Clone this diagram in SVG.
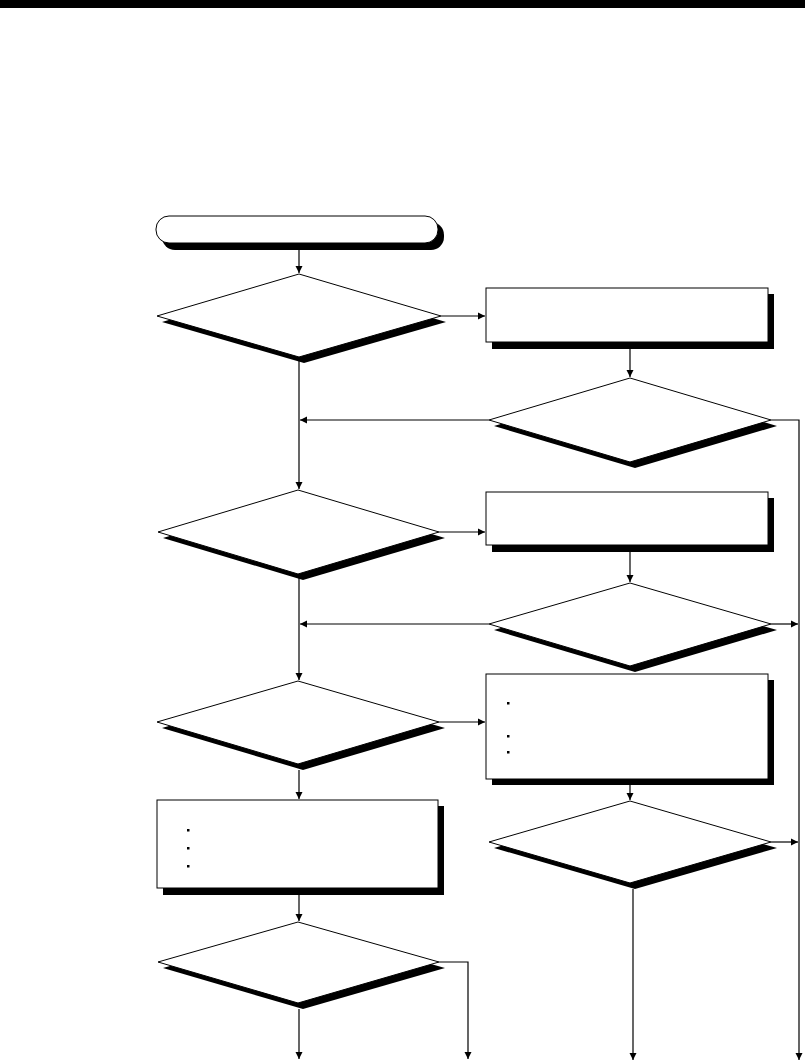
<svg xmlns="http://www.w3.org/2000/svg" width="805" height="1063" viewBox="0 0 805 1063">
<style>
.shadow{fill:#000;stroke:none}
.shape{fill:#fff;stroke:#000;stroke-width:1}
.bullet{fill:#000}
.conn{fill:none;stroke:#000;stroke-width:1.2}
</style>
<defs>
<marker id="ah" markerWidth="8" markerHeight="8" refX="7" refY="4" orient="auto" markerUnits="userSpaceOnUse">
<path d="M0,0.5 L7,4 L0,7.5 Z" fill="#000"/>
</marker>
</defs>
<rect x="0" y="0" width="805" height="8" fill="#000"/>

<g id="start">
<rect class="shadow" x="162" y="222" width="282" height="28" rx="13"/>
<rect class="shape" x="156" y="216" width="282" height="27" rx="13"/>
</g>

<g id="decision1">
<polygon class="shadow" points="304,280 446,322 304,363 162,322"/>
<polygon class="shape" points="299,274 441,316 299,357 157,316"/>
</g>

<g id="process1">
<rect class="shadow" x="492" y="294" width="282" height="55"/>
<rect class="shape" x="486" y="288" width="282" height="54"/>
</g>

<g id="decision2">
<polygon class="shadow" points="635,384 777,426 635,468 494,426"/>
<polygon class="shape" points="630,378 771,420 630,462 489,420"/>
</g>

<g id="decision3">
<polygon class="shadow" points="303,496 445,538 303,580 163,538"/>
<polygon class="shape" points="298,490 439,532 298,574 158,532"/>
</g>

<g id="process2">
<rect class="shadow" x="492" y="498" width="282" height="54"/>
<rect class="shape" x="486" y="492" width="282" height="53"/>
</g>

<g id="decision4">
<polygon class="shadow" points="635,589 777,630 635,672 494,630"/>
<polygon class="shape" points="630,583 771,624 630,666 489,624"/>
</g>

<g id="decision5">
<polygon class="shadow" points="303,687 445,728 303,770 162,728"/>
<polygon class="shape" points="298,681 439,722 298,764 157,722"/>
</g>

<g id="process3">
<rect class="shadow" x="492" y="680" width="282" height="105"/>
<rect class="shape" x="486" y="674" width="282" height="105"/>
<rect class="bullet" x="507" y="702" width="2.5" height="2.5"/>
<rect class="bullet" x="507" y="735" width="2.5" height="2.5"/>
<rect class="bullet" x="507" y="751" width="2.5" height="2.5"/>
</g>

<g id="decision6">
<polygon class="shadow" points="635,807 777,848 635,889 494,848"/>
<polygon class="shape" points="630,801 771,842 630,883 489,842"/>
</g>

<g id="process4">
<rect class="shadow" x="163" y="806" width="281" height="89"/>
<rect class="shape" x="157" y="800" width="281" height="88"/>
<rect class="bullet" x="187" y="829" width="2.5" height="2.5"/>
<rect class="bullet" x="187" y="847" width="2.5" height="2.5"/>
<rect class="bullet" x="187" y="865" width="2.5" height="2.5"/>
</g>

<g id="decision7">
<polygon class="shadow" points="303,928 445,968 303,1009 163,968"/>
<polygon class="shape" points="298,922 439,962 298,1003 158,962"/>
</g>

<g id="connectors">
<path class="conn" d="M299,243 V273" marker-end="url(#ah)"/>
<path class="conn" d="M441,316 H485" marker-end="url(#ah)"/>
<path class="conn" d="M630,349 V377" marker-end="url(#ah)"/>
<path class="conn" d="M489,420 H300" marker-end="url(#ah)"/>
<path class="conn" d="M299,357 V489" marker-end="url(#ah)"/>
<path class="conn" d="M771,420 H799 V1060" marker-end="url(#ah)"/>
<path class="conn" d="M439,532 H485" marker-end="url(#ah)"/>
<path class="conn" d="M630,552 V582" marker-end="url(#ah)"/>
<path class="conn" d="M771,624 H798" marker-end="url(#ah)"/>
<path class="conn" d="M489,624 H300" marker-end="url(#ah)"/>
<path class="conn" d="M299,574 V680" marker-end="url(#ah)"/>
<path class="conn" d="M439,722 H485" marker-end="url(#ah)"/>
<path class="conn" d="M630,785 V800" marker-end="url(#ah)"/>
<path class="conn" d="M771,842 H798" marker-end="url(#ah)"/>
<path class="conn" d="M633,889 V1060" marker-end="url(#ah)"/>
<path class="conn" d="M299,770 V799" marker-end="url(#ah)"/>
<path class="conn" d="M299,895 V921" marker-end="url(#ah)"/>
<path class="conn" d="M439,962 H468 V1059" marker-end="url(#ah)"/>
<path class="conn" d="M299,1009 V1059" marker-end="url(#ah)"/>
</g>
</svg>
